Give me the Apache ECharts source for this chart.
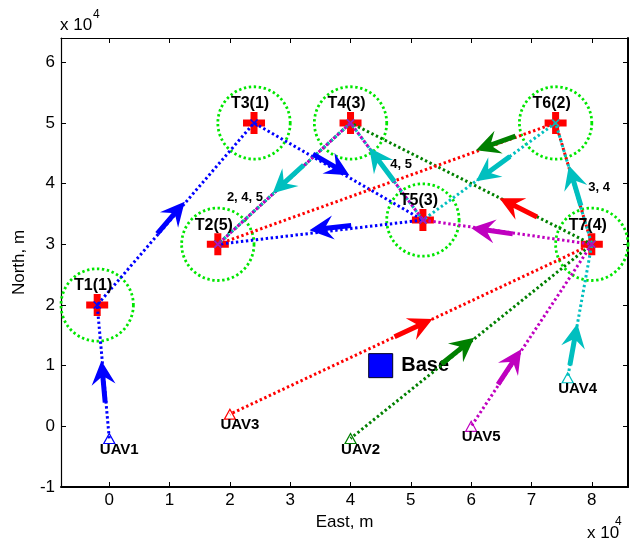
<!DOCTYPE html>
<html><head><meta charset="utf-8">
<script src="https://cdn.jsdelivr.net/npm/echarts@6/dist/echarts.min.js"></script>
<style>html,body{margin:0;padding:0;background:#fff}#c{width:638px;height:543px}</style>
</head><body><div id="c"></div>
<script>
// ---- data (units of 10^4 m) ----
const xTicks = [0, 1, 2, 3, 4, 5, 6, 7, 8];
const yTicks = [-1, 0, 1, 2, 3, 4, 5, 6];
const targetNames = ['T1(1)', 'T2(5)', 'T3(1)', 'T4(3)', 'T5(3)', 'T6(2)', 'T7(4)'];
const targetX = [-0.2, 1.8, 2.4, 4.0, 5.2, 7.4, 8.0];
const targetY = [2.0, 3.0, 5.0, 5.0, 3.4, 5.0, 3.0];
const uavNames = ['UAV1', 'UAV2', 'UAV3', 'UAV4', 'UAV5'];
const uavX = [0, 4, 2, 7.6, 6];
const uavY = [-0.2, -0.2, 0.2, 0.8, 0];
// visiting order of targets for each UAV
const routeUAV1 = ['T1', 'T3', 'T5', 'T2'];
const routeUAV2 = ['T7', 'T4', 'T2'];
const routeUAV3 = ['T7', 'T6', 'T2'];
const routeUAV4 = ['T7', 'T6', 'T5', 'T4', 'T2'];
const routeUAV5 = ['T7', 'T5', 'T4', 'T2'];
const baseName = 'Base';
const basePoint = [4.5, 1.0];
const zoneRadius = 0.6;
const shareNotes = ['2, 4, 5', '4, 5', '3, 4'];
const shareX = [1.95, 4.66, 7.94];
const shareY = [3.78, 4.32, 3.93];
// arrows: [tipX, tipY, segment from, segment to]
const arrowsBlue = [[-0.13, 1.08, 'U1', 'T1'], [1.25, 3.7, 'T1', 'T3'], [3.98, 4.14, 'T3', 'T5'], [3.32, 3.23, 'T5', 'T2']];
const arrowsGreen = [[6.05, 1.46, 'U2', 'T7'], [6.08, 4.55, 'T6', 'T2']];
const arrowsRed = [[5.36, 1.77, 'U3', 'T7'], [6.47, 3.76, 'T7', 'T4']];
const arrowsCyan = [[7.76, 1.69, 'U4', 'T7'], [7.62, 4.3, 'T7', 'T6'], [6.08, 4.04, 'T6', 'T5'], [4.31, 4.59, 'T5', 'T4'], [2.71, 3.84, 'T4', 'T2']];
const arrowsMagenta = [[6.83, 1.27, 'U5', 'T7'], [6.0, 3.27, 'T7', 'T5']];

// ---- helpers ----
function pt(key) {
  const i = parseInt(key.slice(1), 10) - 1;
  return key[0] === 'T' ? [targetX[i], targetY[i]] : [uavX[i], uavY[i]];
}
const FONT = '"Liberation Sans", Arial, Helvetica, sans-serif';
const uavColors = ['#0000ff', '#008000', '#ff0000', '#00bfbf', '#bf00bf'];
const routes = [routeUAV1, routeUAV2, routeUAV3, routeUAV4, routeUAV5];
const xMark = 'path://M0,0L10,10M10,0L0,10';
const plusMark = 'path://M7.5,0H14.5V7.5H22V14.5H14.5V22H7.5V14.5H0V7.5H7.5Z';
const isTick = (list) => (v) => list.some(t => Math.abs(t - v) < 1e-6) ? String(Math.round(v)) : '';

function pathSeries(k) {
  const c = uavColors[k];
  const data = [{
    value: [uavX[k], uavY[k]], symbol: 'triangle', symbolSize: [11, 10],
    itemStyle: { color: 'none', borderColor: c, borderWidth: 1.2 }
  }].concat(routes[k].map(key => ({ value: pt(key) })));
  return {
    type: 'line', z: 3, silent: true, animation: false,
    data: data, symbol: xMark, symbolSize: 7, showSymbol: true,
    lineStyle: { color: c, width: 3, type: [2.4, 2.6], dashOffset: k * 1.0 },
    itemStyle: { color: 'none', borderColor: c, borderWidth: 1.6 }
  };
}

function arrowSeries(list, color) {
  return {
    type: 'custom', coordinateSystem: 'cartesian2d', z: 4, silent: true, animation: false,
    data: list.map(a => { const f = pt(a[2]), t = pt(a[3]); return [a[0], a[1], f[0], f[1], t[0], t[1]]; }),
    encode: { x: 0, y: 1 },
    renderItem: (params, api) => {
      const tip = api.coord([api.value(0), api.value(1)]);
      const p0 = api.coord([api.value(2), api.value(3)]);
      const p1 = api.coord([api.value(4), api.value(5)]);
      let dx = p1[0] - p0[0], dy = p1[1] - p0[1];
      const L = Math.hypot(dx, dy); dx /= L; dy /= L;
      const nx = -dy, ny = dx;
      const shape = [[0, 0], [-24, -12], [-17, -2.5], [-42, -2.5], [-42, 2.5], [-17, 2.5], [-24, 12]];
      const pts = shape.map(([u, v]) => [tip[0] + u * dx + v * nx, tip[1] + u * dy + v * ny]);
      return { type: 'polygon', shape: { points: pts }, style: { fill: color, opacity: 1 } };
    }
  };
}

const axisCommonX = {
  type: 'value', min: -0.8, max: 8.6, minInterval: 1, maxInterval: 1,
  splitLine: { show: false },
  axisTick: { show: true, inside: true, length: 5, lineStyle: { color: '#000', width: 1 } }
};
const axisCommonY = {
  type: 'value', min: -1, max: 6.4, minInterval: 1, maxInterval: 1,
  splitLine: { show: false },
  axisTick: { show: true, inside: true, length: 5, lineStyle: { color: '#000', width: 1 } }
};
const labelSeries = (data, label) => ({
  type: 'scatter', z: 6, silent: true, animation: false,
  data: data, symbolSize: 0,
  itemStyle: { opacity: 1 },
  label: Object.assign({ show: true, formatter: '{b}', color: '#000', opacity: 1, fontWeight: 'bold', fontFamily: FONT }, label)
});

const option = {
  animation: false,
  backgroundColor: '#fff',
  grid: { left: 61, right: 10, top: 38, bottom: 56, containLabel: false },
  xAxis: [
    Object.assign({}, axisCommonX, {
      position: 'bottom',
      axisLine: { show: true, onZero: false, lineStyle: { color: '#000', width: 2 } },
      axisLabel: { formatter: isTick(xTicks), color: '#000', fontSize: 17, fontFamily: FONT, margin: 5 },
      name: 'East, m', nameLocation: 'middle', nameGap: 26,
      nameTextStyle: { color: '#000', fontSize: 17, fontFamily: FONT }
    }),
    Object.assign({}, axisCommonX, {
      position: 'top',
      axisLine: { show: true, onZero: false, lineStyle: { color: '#000', width: 1.2 } },
      axisLabel: { show: false }
    })
  ],
  yAxis: [
    Object.assign({}, axisCommonY, {
      position: 'left',
      axisLine: { show: true, onZero: false, lineStyle: { color: '#000', width: 1.2 } },
      axisLabel: { formatter: isTick(yTicks), color: '#000', fontSize: 17, fontFamily: FONT, margin: 6 },
      name: 'North, m', nameLocation: 'middle', nameGap: 33, nameRotate: 90,
      nameTextStyle: { color: '#000', fontSize: 17, fontFamily: FONT }
    }),
    Object.assign({}, axisCommonY, {
      position: 'right',
      axisLine: { show: true, onZero: false, lineStyle: { color: '#000', width: 2 } },
      axisLabel: { show: false }
    })
  ],
  graphic: [
    { type: 'text', left: 60, top: 17, z: 100, style: { text: 'x 10', font: '17px ' + FONT, fill: '#000' } },
    { type: 'text', left: 93, top: 9, z: 100, style: { text: '4', font: '12px ' + FONT, fill: '#000' } },
    { type: 'text', left: 587, top: 525, z: 100, style: { text: 'x 10', font: '17px ' + FONT, fill: '#000' } },
    { type: 'text', left: 615, top: 516, z: 100, style: { text: '4', font: '12px ' + FONT, fill: '#000' } }
  ],
  series: [
    {
      type: 'custom', coordinateSystem: 'cartesian2d', z: 1, silent: true, animation: false,
      data: targetX.map((x, i) => [x, targetY[i]]),
      encode: { x: 0, y: 1 },
      renderItem: (params, api) => {
        const c = api.coord([api.value(0), api.value(1)]);
        const r = api.size([zoneRadius, 0])[0];
        return { type: 'circle', shape: { cx: c[0], cy: c[1], r: r },
          style: { fill: 'none', stroke: '#00e600', lineWidth: 2.8, lineDash: [2.4, 2.6] } };
      }
    },
    {
      type: 'scatter', z: 2, silent: true, animation: false,
      data: targetX.map((x, i) => [x, targetY[i]]),
      symbol: plusMark, symbolSize: 22,
      itemStyle: { color: '#ff0000', opacity: 1 }
    },
    {
      type: 'scatter', z: 2, silent: true, animation: false,
      data: [{ value: basePoint, name: baseName }],
      symbol: 'rect', symbolSize: 24,
      itemStyle: { color: '#0000ff', borderColor: '#000022', borderWidth: 1, opacity: 1 },
      label: { show: true, position: 'right', distance: 8, formatter: '{b}', color: '#000', opacity: 1,
        fontSize: 20, fontWeight: 'bold', fontFamily: FONT }
    },
    pathSeries(0), pathSeries(1), pathSeries(2), pathSeries(3), pathSeries(4),
    arrowSeries(arrowsBlue, uavColors[0]),
    arrowSeries(arrowsGreen, uavColors[1]),
    arrowSeries(arrowsRed, uavColors[2]),
    arrowSeries(arrowsCyan, uavColors[3]),
    arrowSeries(arrowsMagenta, uavColors[4]),
    labelSeries(targetX.map((x, i) => ({ value: [x, targetY[i]], name: targetNames[i] })),
      { position: 'inside', offset: [-4, -19], fontSize: 16 }),
    labelSeries(uavX.map((x, i) => ({ value: [x, uavY[i]], name: uavNames[i] })),
      { position: 'inside', offset: [10, 11], fontSize: 15 }),
    labelSeries(shareX.map((x, i) => ({ value: [x, shareY[i]], name: shareNotes[i] })),
      { position: 'inside', align: 'left', verticalAlign: 'middle', fontSize: 13 })
  ]
};
const chart = echarts.init(document.getElementById('c'), null, { renderer: 'canvas' });
chart.setOption(option);
</script>
</body></html>
